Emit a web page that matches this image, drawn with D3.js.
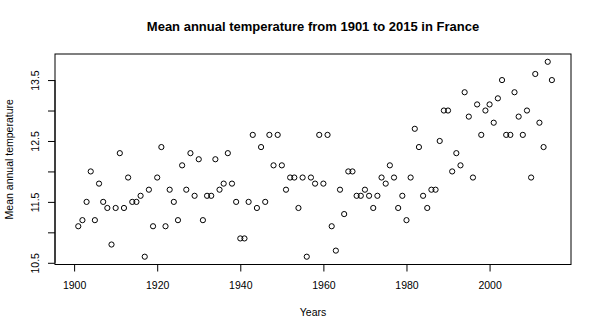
<!DOCTYPE html>
<html>
<head>
<meta charset="utf-8">
<script src="https://cdn.jsdelivr.net/npm/d3@7"></script>
<style>
  body { margin: 0; background: #fff; }
  svg { display: block; font-family: "Liberation Sans", Arial, Helvetica, sans-serif; }
</style>
</head>
<body>
<svg width="599" height="333"></svg>
<script>
var years = [
  1901, 1902, 1903, 1904, 1905, 1906, 1907, 1908, 1909, 1910,
  1911, 1912, 1913, 1914, 1915, 1916, 1917, 1918, 1919, 1920,
  1921, 1922, 1923, 1924, 1925, 1926, 1927, 1928, 1929, 1930,
  1931, 1932, 1933, 1934, 1935, 1936, 1937, 1938, 1939, 1940,
  1941, 1942, 1943, 1944, 1945, 1946, 1947, 1948, 1949, 1950,
  1951, 1952, 1953, 1954, 1955, 1956, 1957, 1958, 1959, 1960,
  1961, 1962, 1963, 1964, 1965, 1966, 1967, 1968, 1969, 1970,
  1971, 1972, 1973, 1974, 1975, 1976, 1977, 1978, 1979, 1980,
  1981, 1982, 1983, 1984, 1985, 1986, 1987, 1988, 1989, 1990,
  1991, 1992, 1993, 1994, 1995, 1996, 1997, 1998, 1999, 2000,
  2001, 2002, 2003, 2004, 2005, 2006, 2007, 2008, 2009, 2010,
  2011, 2012, 2013, 2014, 2015
];

var temps = [
  11.1, 11.2, 11.5, 12.0, 11.2, 11.8, 11.5, 11.4, 10.8, 11.4,
  12.3, 11.4, 11.9, 11.5, 11.5, 11.6, 10.6, 11.7, 11.1, 11.9,
  12.4, 11.1, 11.7, 11.5, 11.2, 12.1, 11.7, 12.3, 11.6, 12.2,
  11.2, 11.6, 11.6, 12.2, 11.7, 11.8, 12.3, 11.8, 11.5, 10.9,
  10.9, 11.5, 12.6, 11.4, 12.4, 11.5, 12.6, 12.1, 12.6, 12.1,
  11.7, 11.9, 11.9, 11.4, 11.9, 10.6, 11.9, 11.8, 12.6, 11.8,
  12.6, 11.1, 10.7, 11.7, 11.3, 12.0, 12.0, 11.6, 11.6, 11.7,
  11.6, 11.4, 11.6, 11.9, 11.8, 12.1, 11.9, 11.4, 11.6, 11.2,
  11.9, 12.7, 12.4, 11.6, 11.4, 11.7, 11.7, 12.5, 13.0, 13.0,
  12.0, 12.3, 12.1, 13.3, 12.9, 11.9, 13.1, 12.6, 13.0, 13.1,
  12.8, 13.2, 13.5, 12.6, 12.6, 13.3, 12.9, 12.6, 13.0, 11.9,
  13.6, 12.8, 12.4, 13.8, 13.5
];

var xTicks = [1900, 1920, 1940, 1960, 1980, 2000];
var yTicks = [10.5, 11, 11.5, 12, 12.5, 13, 13.5];
var yLabelled = [10.5, 11.5, 12.5, 13.5];

var title = "Mean annual temperature from 1901 to 2015 in France";
var xTitle = "Years";
var yTitle = "Mean annual temperature";

var svg = d3.select("svg");

// plot box, in pixels
var boxLeft = 55, boxRight = 571, boxTop = 54, boxBottom = 264.5;

// R style: data range padded by 4% on each side
var xPad = (d3.max(years) - 1900) * 0.04;
var x = d3.scaleLinear()
    .domain([1900 - xPad, d3.max(years) + xPad])
    .range([boxLeft, boxRight]);

var yExt = d3.extent(temps);
var yPad = (yExt[1] - yExt[0]) * 0.04;
var y = d3.scaleLinear()
    .domain([yExt[0] - yPad, yExt[1] + yPad])
    .range([boxBottom, boxTop]);

var data = years.map(function(d, i) { return {year: d, temp: temps[i]}; });

// x axis
var xAxis = svg.append("g")
    .attr("transform", "translate(0," + boxBottom + ")")
    .call(d3.axisBottom(x).tickValues(xTicks).tickFormat(d3.format("d")).tickSize(7).tickPadding(10));
xAxis.select(".domain")
    .attr("d", "M" + x(xTicks[0]) + ",0H" + x(xTicks[xTicks.length - 1]));

// y axis
var yAxis = svg.append("g")
    .attr("transform", "translate(" + boxLeft + ",0)")
    .call(d3.axisLeft(y).tickValues(yTicks).tickSize(7)
      .tickFormat(function(d) { return yLabelled.indexOf(d) >= 0 ? d3.format(".1f")(d) : ""; }));
yAxis.select(".domain")
    .attr("d", "M0," + y(yTicks[0]) + "V" + y(yTicks[yTicks.length - 1]));
yAxis.selectAll(".tick text")
    .attr("x", null).attr("dy", null)
    .attr("text-anchor", "middle")
    .attr("transform", "translate(-16.5,0) rotate(-90)");

svg.selectAll(".tick text").attr("font-size", 10.5).attr("fill", "#000")
    .attr("font-family", "Liberation Sans, Arial, sans-serif");
svg.selectAll(".tick line, .domain").attr("stroke", "#000");

// box
svg.append("rect")
    .attr("x", boxLeft).attr("y", boxTop)
    .attr("width", boxRight - boxLeft).attr("height", boxBottom - boxTop)
    .attr("fill", "none")
    .attr("stroke", "#000");

// points
svg.append("g").selectAll("circle")
    .data(data)
    .enter().append("circle")
    .attr("cx", function(d) { return x(d.year); })
    .attr("cy", function(d) { return y(d.temp); })
    .attr("r", 2.6)
    .attr("fill", "none")
    .attr("stroke", "#000")
    .attr("stroke-width", 1);

// titles
svg.append("text")
    .attr("x", (boxLeft + boxRight) / 2)
    .attr("y", 31)
    .attr("text-anchor", "middle")
    .style("font-weight", "bold")
    .style("font-size", "13px")
    .text(title);

svg.append("text")
    .attr("x", (boxLeft + boxRight) / 2)
    .attr("y", 316)
    .attr("text-anchor", "middle")
    .style("font-size", "10.5px")
    .text(xTitle);

svg.append("text")
    .attr("transform", "translate(13," + ((boxTop + boxBottom) / 2) + ") rotate(-90)")
    .attr("text-anchor", "middle")
    .style("font-size", "10.5px")
    .text(yTitle);
</script>
</body>
</html>
